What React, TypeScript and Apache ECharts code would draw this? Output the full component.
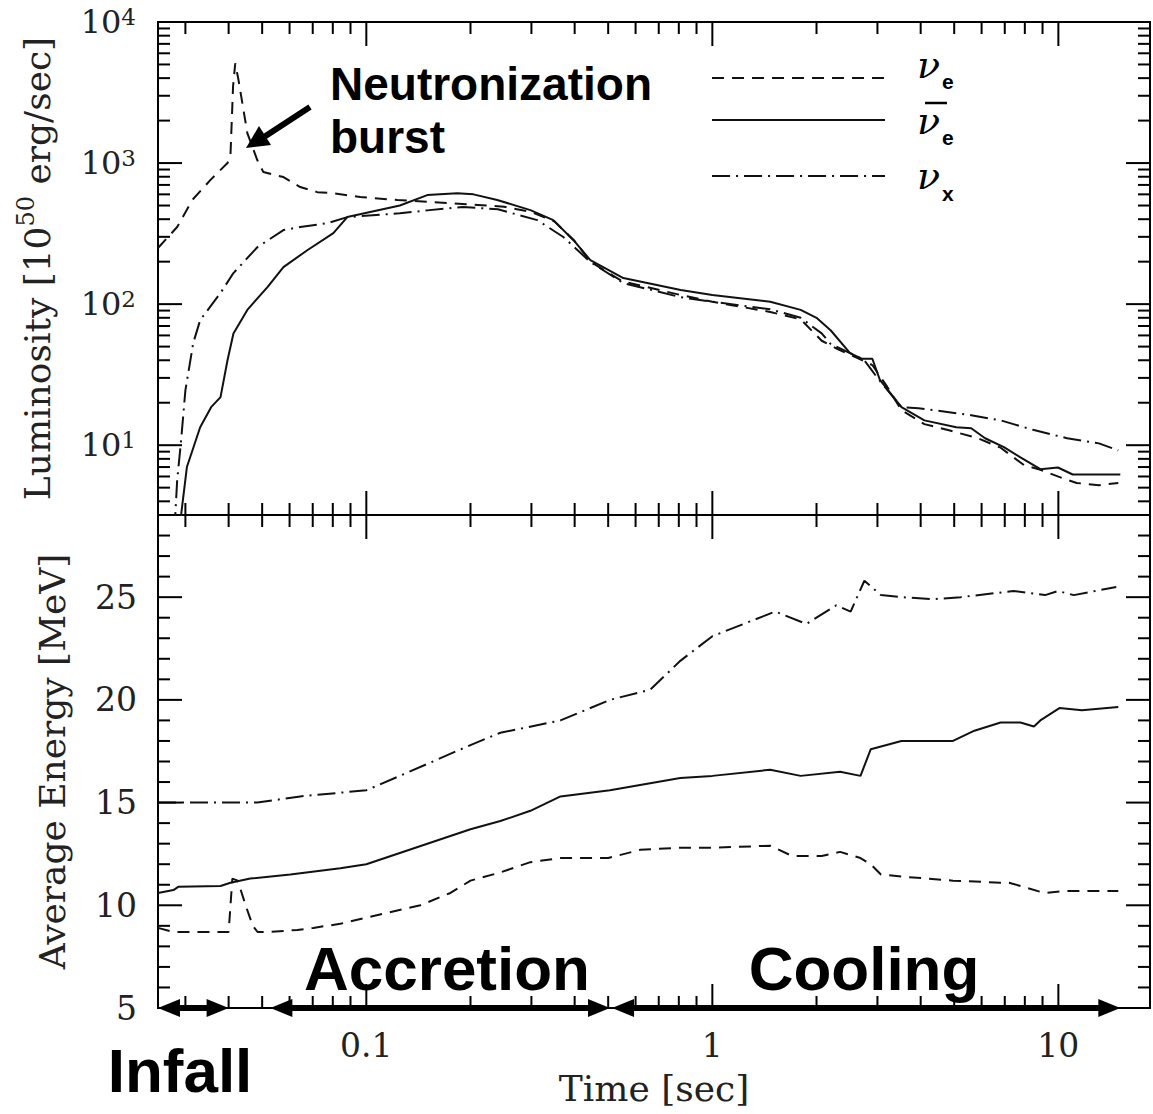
import React, { useEffect, useRef } from "react";
import * as echarts from "echarts";

// ---------- axis ranges & ticks ----------
const timeMin = 0.025;
const timeMax = 18.4;
const lumMin = 3.2;
const lumMax = 10000;
const energyMin = 5;
const energyMax = 29;

const xMajorTicks = [0.1, 1, 10];
const xMinorTicks = [0.03, 0.04, 0.05, 0.06, 0.07, 0.08, 0.09, 0.2, 0.3, 0.4, 0.5, 0.6, 0.7, 0.8, 0.9, 2, 3, 4, 5, 6, 7, 8, 9];
const lumMajorTicks = [10, 100, 1000, 10000];
const lumMinorTicks = [4, 5, 6, 7, 8, 9, 20, 30, 40, 50, 60, 70, 80, 90, 200, 300, 400, 500, 600, 700, 800, 900, 2000, 3000, 4000, 5000, 6000, 7000, 8000, 9000];
const energyMajorTicks = [5, 10, 15, 20, 25];
const energyMinorTicks = [6, 7, 8, 9, 11, 12, 13, 14, 16, 17, 18, 19, 21, 22, 23, 24, 26, 27, 28, 29];

// ---------- luminosity [1e50 erg/s] vs time [s] ----------
const lumNuE = [
  [0.025, 250], [0.0284, 352], [0.0314, 547], [0.0354, 757], [0.0397, 1000], [0.0405, 1150],
  [0.0412, 3500], [0.0418, 5100], [0.0427, 3900], [0.0453, 1630], [0.0484, 1050], [0.0504, 863],
  [0.0576, 796], [0.0644, 676], [0.0722, 622], [0.0803, 612], [0.096, 574], [0.123, 547],
  [0.171, 520], [0.21, 505], [0.25, 490], [0.3, 450], [0.35, 385], [0.4, 280], [0.444, 200],
  [0.55, 145], [0.81, 116], [1.0, 104], [1.47, 88], [1.8, 78], [2.07, 55], [2.3, 48], [2.6, 42],
  [2.9, 37], [3.2, 26], [3.52, 17.7], [4.1, 14.1], [4.86, 12.7], [5.85, 11.2], [6.81, 9.6],
  [7.97, 7.2], [8.87, 6.7], [10.34, 5.8], [11.3, 5.4], [13.1, 5.2], [14.9, 5.4],
];
const lumAntiNuE = [
  [0.0288, 2.5], [0.0303, 7.0], [0.0331, 13.4], [0.0356, 18.6], [0.0379, 21.9], [0.0397, 40],
  [0.0413, 62], [0.0453, 91], [0.0518, 132], [0.0576, 183], [0.0675, 241], [0.0803, 319],
  [0.0881, 414], [0.125, 500], [0.15, 593], [0.183, 612], [0.204, 600], [0.239, 547], [0.298, 464],
  [0.347, 394], [0.397, 284], [0.444, 205], [0.553, 153], [0.81, 126], [1.0, 116], [1.47, 104],
  [1.8, 91], [2.0, 80], [2.2, 65], [2.5, 45], [2.7, 41], [2.9, 41], [3.05, 29], [3.52, 18.6],
  [4.1, 15.0], [5.07, 13.4], [5.6, 13.2], [6.14, 11.2], [6.96, 9.7], [7.77, 8.2], [8.87, 6.76],
  [9.97, 6.95], [11.0, 6.2], [15.1, 6.2],
];
const lumNuX = [
  [0.0279, 2.5], [0.0284, 5.65], [0.0291, 10.3], [0.03, 24.5], [0.0316, 52.9], [0.0331, 77],
  [0.0379, 120], [0.0413, 166], [0.0484, 253], [0.0576, 335], [0.0644, 352], [0.0772, 375],
  [0.0881, 414], [0.125, 440], [0.15, 462], [0.19, 488], [0.24, 470], [0.312, 394], [0.371, 299],
  [0.444, 199], [0.553, 141], [0.81, 112], [1.0, 104], [1.47, 92], [1.8, 80], [2.07, 62],
  [2.2, 52], [2.5, 45], [2.75, 40], [3.0, 30], [3.52, 18.6], [3.94, 18.3], [5.6, 16.3],
  [6.81, 15.0], [8.5, 12.8], [10.6, 11.2], [13.1, 10.3], [14.9, 9.2],
];

// ---------- average energy [MeV] vs time [s] ----------
const enNuE = [
  [0.025, 8.9], [0.0277, 8.7], [0.04, 8.7], [0.0405, 10.0], [0.041, 11.3], [0.0425, 11.2],
  [0.045, 9.9], [0.047, 9.0], [0.0485, 8.7], [0.0518, 8.7], [0.0632, 8.8], [0.0703, 8.9],
  [0.0841, 9.1], [0.1, 9.4], [0.1433, 10.0], [0.175, 10.6], [0.2, 11.2], [0.244, 11.6],
  [0.298, 12.1], [0.364, 12.3], [0.5, 12.3], [0.619, 12.7], [0.808, 12.8], [1.0, 12.8],
  [1.47, 12.9], [1.7, 12.4], [2.07, 12.4], [2.34, 12.6], [2.68, 12.3], [2.87, 12.0], [3.07, 11.5],
  [3.52, 11.4], [4.96, 11.2], [6.81, 11.1], [7.2, 11.1], [9.1, 10.6], [10.6, 10.7], [14.9, 10.7],
];
const enAntiNuE = [
  [0.025, 10.6], [0.0277, 10.74], [0.0286, 10.9], [0.0379, 10.94], [0.0405, 11.1], [0.0462, 11.3],
  [0.0603, 11.5], [0.0841, 11.8], [0.1, 12.0], [0.2, 13.7], [0.244, 14.1], [0.298, 14.6],
  [0.364, 15.3], [0.506, 15.6], [0.808, 16.2], [1.0, 16.3], [1.47, 16.6], [1.8, 16.3], [2.34, 16.5],
  [2.68, 16.3], [2.87, 17.6], [3.52, 18.0], [4.33, 18.0], [4.96, 18.0], [5.72, 18.5], [6.81, 18.9],
  [7.77, 18.9], [8.5, 18.7], [8.87, 19.0], [10.07, 19.6], [11.7, 19.5], [14.9, 19.65],
];
const enNuX = [
  [0.025, 15.0], [0.0484, 15.0], [0.0644, 15.3], [0.1, 15.6], [0.125, 16.3], [0.2, 17.8],
  [0.244, 18.4], [0.364, 19.0], [0.506, 20.0], [0.662, 20.5], [0.808, 21.9], [1.0, 23.1],
  [1.52, 24.3], [1.87, 23.7], [2.28, 24.6], [2.51, 24.3], [2.75, 25.8], [3.07, 25.1], [3.52, 25.0],
  [4.33, 24.9], [5.22, 25.0], [6.6, 25.2], [7.42, 25.3], [9.15, 25.1], [9.97, 25.3], [11.08, 25.1],
  [14.7, 25.5],
];

// phases (time ranges for the annotation arrows)
const phaseNames = ["Infall", "Accretion", "Cooling"];
const phaseStart = [0.025, 0.0528, 0.513];
const phaseEnd = [0.04, 0.506, 15.1];

const INK = "#111";
const SERIF = "DejaVu Serif";
const SANS = "Liberation Sans";
const DASH_E = [12, 8];
const DASH_X = [18, 6, 2, 6];

const isPow10 = (v: number) => {
  const l = Math.log10(v);
  return Math.abs(l - Math.round(l)) < 1e-6;
};

function tickSeries(gridIdx: number, orient: "x" | "y", data: number[][]) {
  return {
    type: "custom",
    xAxisIndex: gridIdx,
    yAxisIndex: gridIdx,
    silent: true,
    z: 10,
    data,
    encode: { x: 0, y: 1 },
    renderItem: (params: any, api: any) => {
      const cs = params.coordSys;
      const p = api.coord([api.value(0), api.value(1)]);
      const len = api.value(2) ? 24 : 12;
      const st = () => ({ stroke: "#000", lineWidth: 2 });
      if (orient === "x") {
        return {
          type: "group",
          children: [
            { type: "line", shape: { x1: p[0], y1: cs.y, x2: p[0], y2: cs.y + len }, style: st() },
            { type: "line", shape: { x1: p[0], y1: cs.y + cs.height, x2: p[0], y2: cs.y + cs.height - len }, style: st() },
          ],
        };
      }
      return {
        type: "group",
        children: [
          { type: "line", shape: { x1: cs.x, y1: p[1], x2: cs.x + len, y2: p[1] }, style: st() },
          { type: "line", shape: { x1: cs.x + cs.width, y1: p[1], x2: cs.x + cs.width - len, y2: p[1] }, style: st() },
        ],
      };
    },
  };
}

function lineSeries(name: string, gridIdx: number, data: number[][], dash: any) {
  return {
    type: "line",
    name,
    xAxisIndex: gridIdx,
    yAxisIndex: gridIdx,
    data,
    showSymbol: false,
    symbol: "none",
    clip: true,
    z: 3,
    lineStyle: { color: INK, width: 2, type: dash },
  };
}

function txt(x: number, y: number, text: string, font: string, align = "left") {
  return {
    type: "text",
    x,
    y,
    z: 20,
    style: {
      text,
      font,
      fill: "#000",
      textAlign: align,
      textVerticalAlign: "middle",
      align,
      verticalAlign: "middle",
    },
  };
}

export default function App() {
  const ref = useRef<HTMLDivElement>(null);
  useEffect(() => {
    if (!ref.current) return;
    const chart = echarts.init(ref.current, null, { renderer: "svg" });
    const gridCommon = { left: 158, width: 992, height: 493, show: true, borderColor: "#000", borderWidth: 2, backgroundColor: "transparent" };
    const hidden = { axisLine: { show: false }, axisTick: { show: false }, splitLine: { show: false } };

    const option: any = {
      animation: false,
      backgroundColor: "#fff",
      grid: [{ ...gridCommon, top: 22 }, { ...gridCommon, top: 515 }],
      xAxis: [
        { type: "log", gridIndex: 0, min: timeMin, max: timeMax, ...hidden, axisLabel: { show: false } },
        {
          type: "log", gridIndex: 1, min: timeMin, max: timeMax, ...hidden,
          axisLabel: {
            show: true, margin: 21, fontFamily: SERIF, fontSize: 33, color: "#222",
            showMinLabel: true, showMaxLabel: true,
            formatter: (v: number) => (isPow10(v) ? String(+v.toPrecision(6)) : ""),
          },
          name: "Time [sec]", nameLocation: "middle", nameGap: 62,
          nameTextStyle: { fontFamily: SERIF, fontSize: 36, color: "#222" },
        },
      ],
      yAxis: [
        {
          type: "log", gridIndex: 0, min: lumMin, max: lumMax, ...hidden,
          axisLabel: {
            show: true, margin: 22, color: "#222", showMinLabel: true, showMaxLabel: true,
            formatter: (v: number) => (isPow10(v) ? `{b|10}{s|${Math.round(Math.log10(v))}}` : ""),
            rich: {
              b: { fontFamily: SERIF, fontSize: 32, lineHeight: 33, color: "#222" },
              s: { fontFamily: SERIF, fontSize: 23, lineHeight: 24, verticalAlign: "top", color: "#222" },
            },
          },
          name: "Luminosity [10{s|50} erg/sec]", nameLocation: "middle", nameGap: 98, nameRotate: 90,
          nameTextStyle: {
            fontFamily: SERIF, fontSize: 36, color: "#222", lineHeight: 46,
            rich: { s: { fontFamily: SERIF, fontSize: 24, lineHeight: 18, verticalAlign: "top", color: "#222" } },
          },
        },
        {
          type: "value", gridIndex: 1, min: energyMin, max: energyMax, interval: 5, ...hidden,
          axisLabel: {
            show: true, margin: 21, fontFamily: SERIF, fontSize: 33, color: "#222",
            showMinLabel: true, showMaxLabel: true,
            formatter: (v: number) => (v % 5 === 0 ? String(v) : ""),
          },
          name: "Average Energy [MeV]", nameLocation: "middle", nameGap: 88, nameRotate: 90,
          nameTextStyle: { fontFamily: SERIF, fontSize: 36, color: "#222" },
        },
      ],
      series: [
        lineSeries("νe L", 0, lumNuE, DASH_E),
        lineSeries("anti-νe L", 0, lumAntiNuE, "solid"),
        lineSeries("νx L", 0, lumNuX, DASH_X),
        lineSeries("νe E", 1, enNuE, DASH_E),
        lineSeries("anti-νe E", 1, enAntiNuE, "solid"),
        lineSeries("νx E", 1, enNuX, DASH_X),
        tickSeries(0, "x", [...xMajorTicks.map((t) => [t, lumMax, 1]), ...xMinorTicks.map((t) => [t, lumMax, 0])]),
        tickSeries(1, "x", [...xMajorTicks.map((t) => [t, energyMax, 1]), ...xMinorTicks.map((t) => [t, energyMax, 0])]),
        tickSeries(0, "y", [...lumMajorTicks.map((v) => [timeMin, v, 1]), ...lumMinorTicks.map((v) => [timeMin, v, 0])]),
        tickSeries(1, "y", [...energyMajorTicks.map((v) => [timeMin, v, 1]), ...energyMinorTicks.map((v) => [timeMin, v, 0])]),
      ],
    };
    chart.setOption(option);

    // annotations
    const g: any[] = [];
    // legend
    const legY = [78, 120, 176];
    const legDash: any[] = [DASH_E, null, DASH_X];
    legY.forEach((y, i) => {
      g.push({
        type: "line", z: 20,
        shape: { x1: 712, y1: y, x2: 885, y2: y },
        style: { stroke: INK, lineWidth: 2, lineDash: legDash[i] || undefined },
      });
    });
    const nuFont = `italic 38px "${SERIF}"`;
    const subFont = `bold 21px "${SANS}"`;
    g.push(txt(917, 65, "ν", nuFont));
    g.push(txt(942, 81, "e", subFont));
    g.push(txt(917, 121, "ν", nuFont));
    g.push(txt(942, 137, "e", subFont));
    g.push({ type: "line", z: 20, shape: { x1: 925, y1: 103, x2: 947, y2: 103 }, style: { stroke: "#000", lineWidth: 2.5 } });
    g.push(txt(917, 176, "ν", nuFont));
    g.push(txt(942, 193, "x", subFont));

    // neutronization burst label + arrow
    g.push(txt(330, 84, "Neutronization", `bold 46px "${SANS}"`));
    g.push(txt(330, 137, "burst", `bold 46px "${SANS}"`));
    g.push({ type: "line", z: 20, shape: { x1: 310, y1: 107, x2: 264, y2: 137 }, style: { stroke: "#000", lineWidth: 6 } });
    g.push({ type: "polygon", z: 20, shape: { points: [[246, 148], [271, 145], [259, 126]] }, style: { fill: "#000" } });

    // phase arrows along the bottom axis
    const yb = chart.convertToPixel({ yAxisIndex: 1 }, energyMin) as number;
    phaseNames.forEach((_, i) => {
      const x1 = chart.convertToPixel({ xAxisIndex: 1 }, phaseStart[i]) as number;
      const x2 = chart.convertToPixel({ xAxisIndex: 1 }, phaseEnd[i]) as number;
      const hl = 22, hw = 9;
      g.push({ type: "line", z: 20, shape: { x1: x1 + hl - 2, y1: yb, x2: x2 - hl + 2, y2: yb }, style: { stroke: "#000", lineWidth: 6 } });
      g.push({ type: "polygon", z: 20, shape: { points: [[x1, yb], [x1 + hl, yb - hw], [x1 + hl, yb + hw]] }, style: { fill: "#000" } });
      g.push({ type: "polygon", z: 20, shape: { points: [[x2, yb], [x2 - hl, yb - hw], [x2 - hl, yb + hw]] }, style: { fill: "#000" } });
    });
    const phaseFont = `bold 62px "${SANS}"`;
    g.push(txt(447, 968, phaseNames[1], phaseFont, "center"));
    g.push(txt(864, 968, phaseNames[2], phaseFont, "center"));
    g.push(txt(180, 1070, phaseNames[0], phaseFont, "center"));

    chart.setOption({ graphic: g });
    return () => chart.dispose();
  }, []);
  return <div ref={ref} style={{ position: "absolute", left: 0, top: 0, width: 1153, height: 1114 }} />;
}
